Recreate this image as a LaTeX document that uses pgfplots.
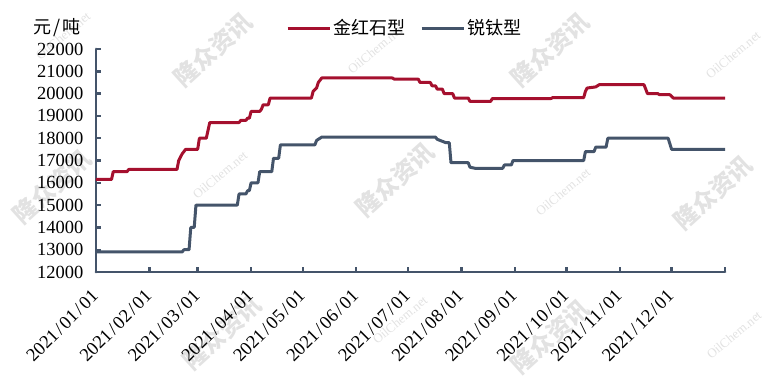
\documentclass[border=0pt]{standalone}
\usepackage{fontspec}
\setmainfont{Liberation Serif}
\newfontfamily\cjk{Noto Sans CJK SC}
\usepackage{pgfplots}
\pgfplotsset{compat=1.18}
\definecolor{cred}{RGB}{165,16,46}
\definecolor{cblue}{RGB}{68,84,106}
\definecolor{wm}{RGB}{226,226,226}
\newcommand{\ds}{\makebox[0.5em]{/}}
\begin{document}
\begin{tikzpicture}
\useasboundingbox (0,0) rectangle (768pt,384pt);
% watermarks
\foreach \x/\y in {213/334,550/334,52/197,395/204,713/191,222/51,550/47}{
  \node[rotate=42,text=wm,font=\cjk\bfseries\fontsize{24}{24}\selectfont] at (\x pt,\y pt) {隆众资讯};
}
\foreach \x/\y in {63/348,375/334,733/329,220/209,563/192,400/64,734/49}{
  \node[rotate=40,text=wm,font=\fontsize{13}{13}\selectfont] at (\x pt,\y pt) {OilChem.net};
}
\node[font=\cjk\fontsize{18}{18}\selectfont] at (57pt,356pt) {元\makebox[0.6em]{/}吨};
\begin{axis}[
  at={(96pt,112pt)}, anchor=south west,
  scale only axis, width=629pt, height=223pt,
  xmin=0, xmax=365, ymin=12000, ymax=22000,
  axis x line=bottom, axis y line=left,
  axis line style={-, cblue, line width=2.8pt, line cap=round},
  xtick={0,31,59,90,120,151,181,212,243,273,304,334,365},
  xticklabels={2021\ds01\ds01,2021\ds02\ds01,2021\ds03\ds01,2021\ds04\ds01,2021\ds05\ds01,2021\ds06\ds01,2021\ds07\ds01,2021\ds08\ds01,2021\ds09\ds01,2021\ds10\ds01,2021\ds11\ds01,2021\ds12\ds01,},
  ytick={12000,13000,...,22000},
  scaled y ticks=false,
  tick align=inside,
  major tick length=5pt,
  tick style={cblue, line width=2.4pt},
  /pgf/number format/assume math mode=true,
  /pgf/number format/set thousands separator={},
  ticklabel style={font=\fontsize{18.5}{18.5}\selectfont},
  yticklabel style={xshift=-9pt},
  xticklabel style={xshift=-1pt, yshift=-21pt, rotate=45, anchor=east, inner sep=0pt},
  clip=false,
  legend style={draw=none, fill=none, at={(0.297,1.094)}, anchor=west,
    font=\cjk\fontsize{18}{18}\selectfont, legend columns=2,
    /tikz/every even column/.append style={column sep=13pt}},
  legend image code/.code={\draw[#1, line width=3pt] (0pt,0pt) -- (42pt,0pt);},
]
\addplot[cred, line width=3pt, line join=round] coordinates {
(0,16150)(9,16150)(10,16500)(18,16500)(19,16600)(47,16600)(48,17000)(50,17300)(52,17500)(59,17500)(60,18000)(64,18000)(66,18700)(83,18700)(84,18800)(87,18800)(88,18900)(89,18900)(90,19200)(95,19200)(96,19300)(97,19500)(100,19500)(101,19800)(125,19800)(126,20100)(128,20250)(129,20500)(131,20700)(172,20700)(173,20650)(187,20650)(188,20500)(194,20500)(195,20350)(197,20350)(198,20200)(201,20200)(202,20000)(207,20000)(208,19800)(216,19800)(217,19650)(229,19650)(230,19780)(264,19780)(265,19820)(283,19820)(284,20100)(285,20250)(290,20300)(292,20400)(318,20400)(320,20000)(326,20000)(327,19950)(333,19950)(335,19800)(365,19800)
};
\addlegendentry{金红石型}
\addplot[cblue, line width=3pt, line join=round] coordinates {
(0,12900)(50,12900)(51,13000)(54,13000)(55,14000)(57,14000)(58,15000)(82,15000)(83,15500)(87,15500)(88,15650)(89,15650)(90,16000)(94,16000)(95,16500)(102,16500)(103,17100)(106,17100)(107,17700)(127,17700)(128,17900)(131,18050)(197,18050)(198,17950)(203,17800)(205,17800)(206,16900)(216,16900)(217,16700)(220,16650)(236,16650)(237,16800)(241,16800)(242,17000)(283,17000)(284,17400)(289,17400)(290,17600)(296,17600)(297,18000)(332,18000)(334,17500)(365,17500)
};
\addlegendentry{锐钛型}
\end{axis}
\end{tikzpicture}
\end{document}
